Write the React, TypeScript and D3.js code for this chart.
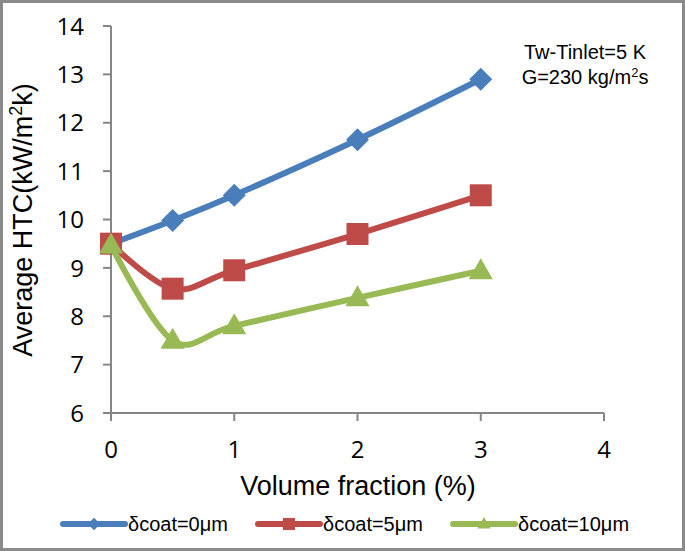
import React from "react";
import * as d3 from "d3";

const xValues = [0, 0.5, 1, 2, 3];
const series0 = [9.5, 9.98, 10.5, 11.65, 12.9];
const series5 = [9.5, 8.57, 8.95, 9.7, 10.5];
const series10 = [9.47, 7.5, 7.8, 8.38, 8.94];
const seriesNames = ["δcoat=0μm", "δcoat=5μm", "δcoat=10μm"];
const colors = ["#4a7ebb", "#be4b48", "#98b954"];
const xTicks = [0, 1, 2, 3, 4];
const yTicks = [6, 7, 8, 9, 10, 11, 12, 13, 14];

const W = 685, H = 551;
const x = d3.scaleLinear().domain([0, 4]).range([111, 604]);
const y = d3.scaleLinear().domain([6, 14]).range([413, 26]);

function Marker({ kind, cx, cy, color }: { kind: number; cx: number; cy: number; color: string }) {
  if (kind === 0) {
    const r = 11.5;
    return <path d={`M${cx},${cy - r}L${cx + r},${cy}L${cx},${cy + r}L${cx - r},${cy}Z`} fill={color} />;
  }
  if (kind === 1) {
    const s = 22;
    return <rect x={cx - s / 2} y={cy - s / 2} width={s} height={s} fill={color} />;
  }
  const s = 24;
  const h = 21;
  return <path d={`M${cx},${cy - h * 0.6}L${cx + s / 2},${cy + h * 0.4}L${cx - s / 2},${cy + h * 0.4}Z`} fill={color} />;
}

export default function App() {
  const all = [series0, series5, series10];
  const line = d3
    .line<number>()
    .x((_, i) => x(xValues[i]))
    .y((d) => y(d))
    .curve(d3.curveCatmullRom.alpha(0));
  const font = "'Liberation Sans', Arial, sans-serif";
  const tickFont = "'Open Sans', 'Liberation Sans', sans-serif";
  const axisColor = "#868686";
  const legendX = [63, 258, 453];
  return (
    <svg width={W} height={H} style={{ position: "absolute", left: 0, top: 0, background: "#fff" }}>
      <rect x={1.5} y={1.5} width={W - 3} height={H - 3} fill="#fff" stroke="#8a8a8a" strokeWidth={3} />
      {/* y axis */}
      <line x1={x(0)} x2={x(0)} y1={y(14)} y2={y(6)} stroke={axisColor} strokeWidth={2} />
      {yTicks.map((t) => (
        <g key={"y" + t}>
          <line x1={x(0) - 8} x2={x(0)} y1={y(t)} y2={y(t)} stroke={axisColor} strokeWidth={2} />
          <text x={84} y={y(t)} dy="0.36em" textAnchor="end" fontSize={24} fontFamily={tickFont} fill="#000">
            {t}
          </text>
        </g>
      ))}
      {/* x axis */}
      <line x1={x(0) - 8} x2={x(4)} y1={y(6)} y2={y(6)} stroke={axisColor} strokeWidth={2} />
      {xTicks.map((t) => (
        <g key={"x" + t}>
          <line x1={x(t)} x2={x(t)} y1={y(6)} y2={y(6) + 8} stroke={axisColor} strokeWidth={2} />
          <text x={x(t)} y={458} textAnchor="middle" fontSize={24} fontFamily={tickFont} fill="#000">
            {t}
          </text>
        </g>
      ))}
      <text x={358} y={495} textAnchor="middle" fontSize={27} fontFamily={font} fill="#000">
        Volume fraction (%)
      </text>
      <text transform="translate(32,220) rotate(-90)" textAnchor="middle" fontSize={27} fontFamily={font} fill="#000">
        Average HTC(kW/m<tspan dy={-10} fontSize={18}>2</tspan>
        <tspan dy={10}>k)</tspan>
      </text>
      {/* annotation */}
      <text x={585} y={59} textAnchor="middle" fontSize={20} fontFamily={font} fill="#000">
        Tw-Tinlet=5 K
      </text>
      <text x={585} y={84} textAnchor="middle" fontSize={20} fontFamily={font} fill="#000">
        G=230 kg/m<tspan dy={-7} fontSize={13}>2</tspan>
        <tspan dy={7}>s</tspan>
      </text>
      {/* series */}
      {all.map((s, k) => (
        <g key={"s" + k}>
          <path d={line(s) || ""} fill="none" stroke={colors[k]} strokeWidth={6} strokeLinejoin="round" strokeLinecap="round" />
          {s.map((v, i) => (
            <Marker key={i} kind={k} cx={x(xValues[i])} cy={y(v)} color={colors[k]} />
          ))}
        </g>
      ))}
      {/* legend */}
      {seriesNames.map((n, k) => (
        <g key={"l" + k}>
          <line x1={legendX[k]} x2={legendX[k] + 62} y1={524} y2={524} stroke={colors[k]} strokeWidth={6} strokeLinecap="round" />
          <g transform={`translate(${legendX[k] + 31},524) scale(0.55)`}>
            <Marker kind={k} cx={0} cy={0} color={colors[k]} />
          </g>
          <text x={legendX[k] + 65} y={531} fontSize={20} fontFamily={font} fill="#000">
            {n}
          </text>
        </g>
      ))}
    </svg>
  );
}
